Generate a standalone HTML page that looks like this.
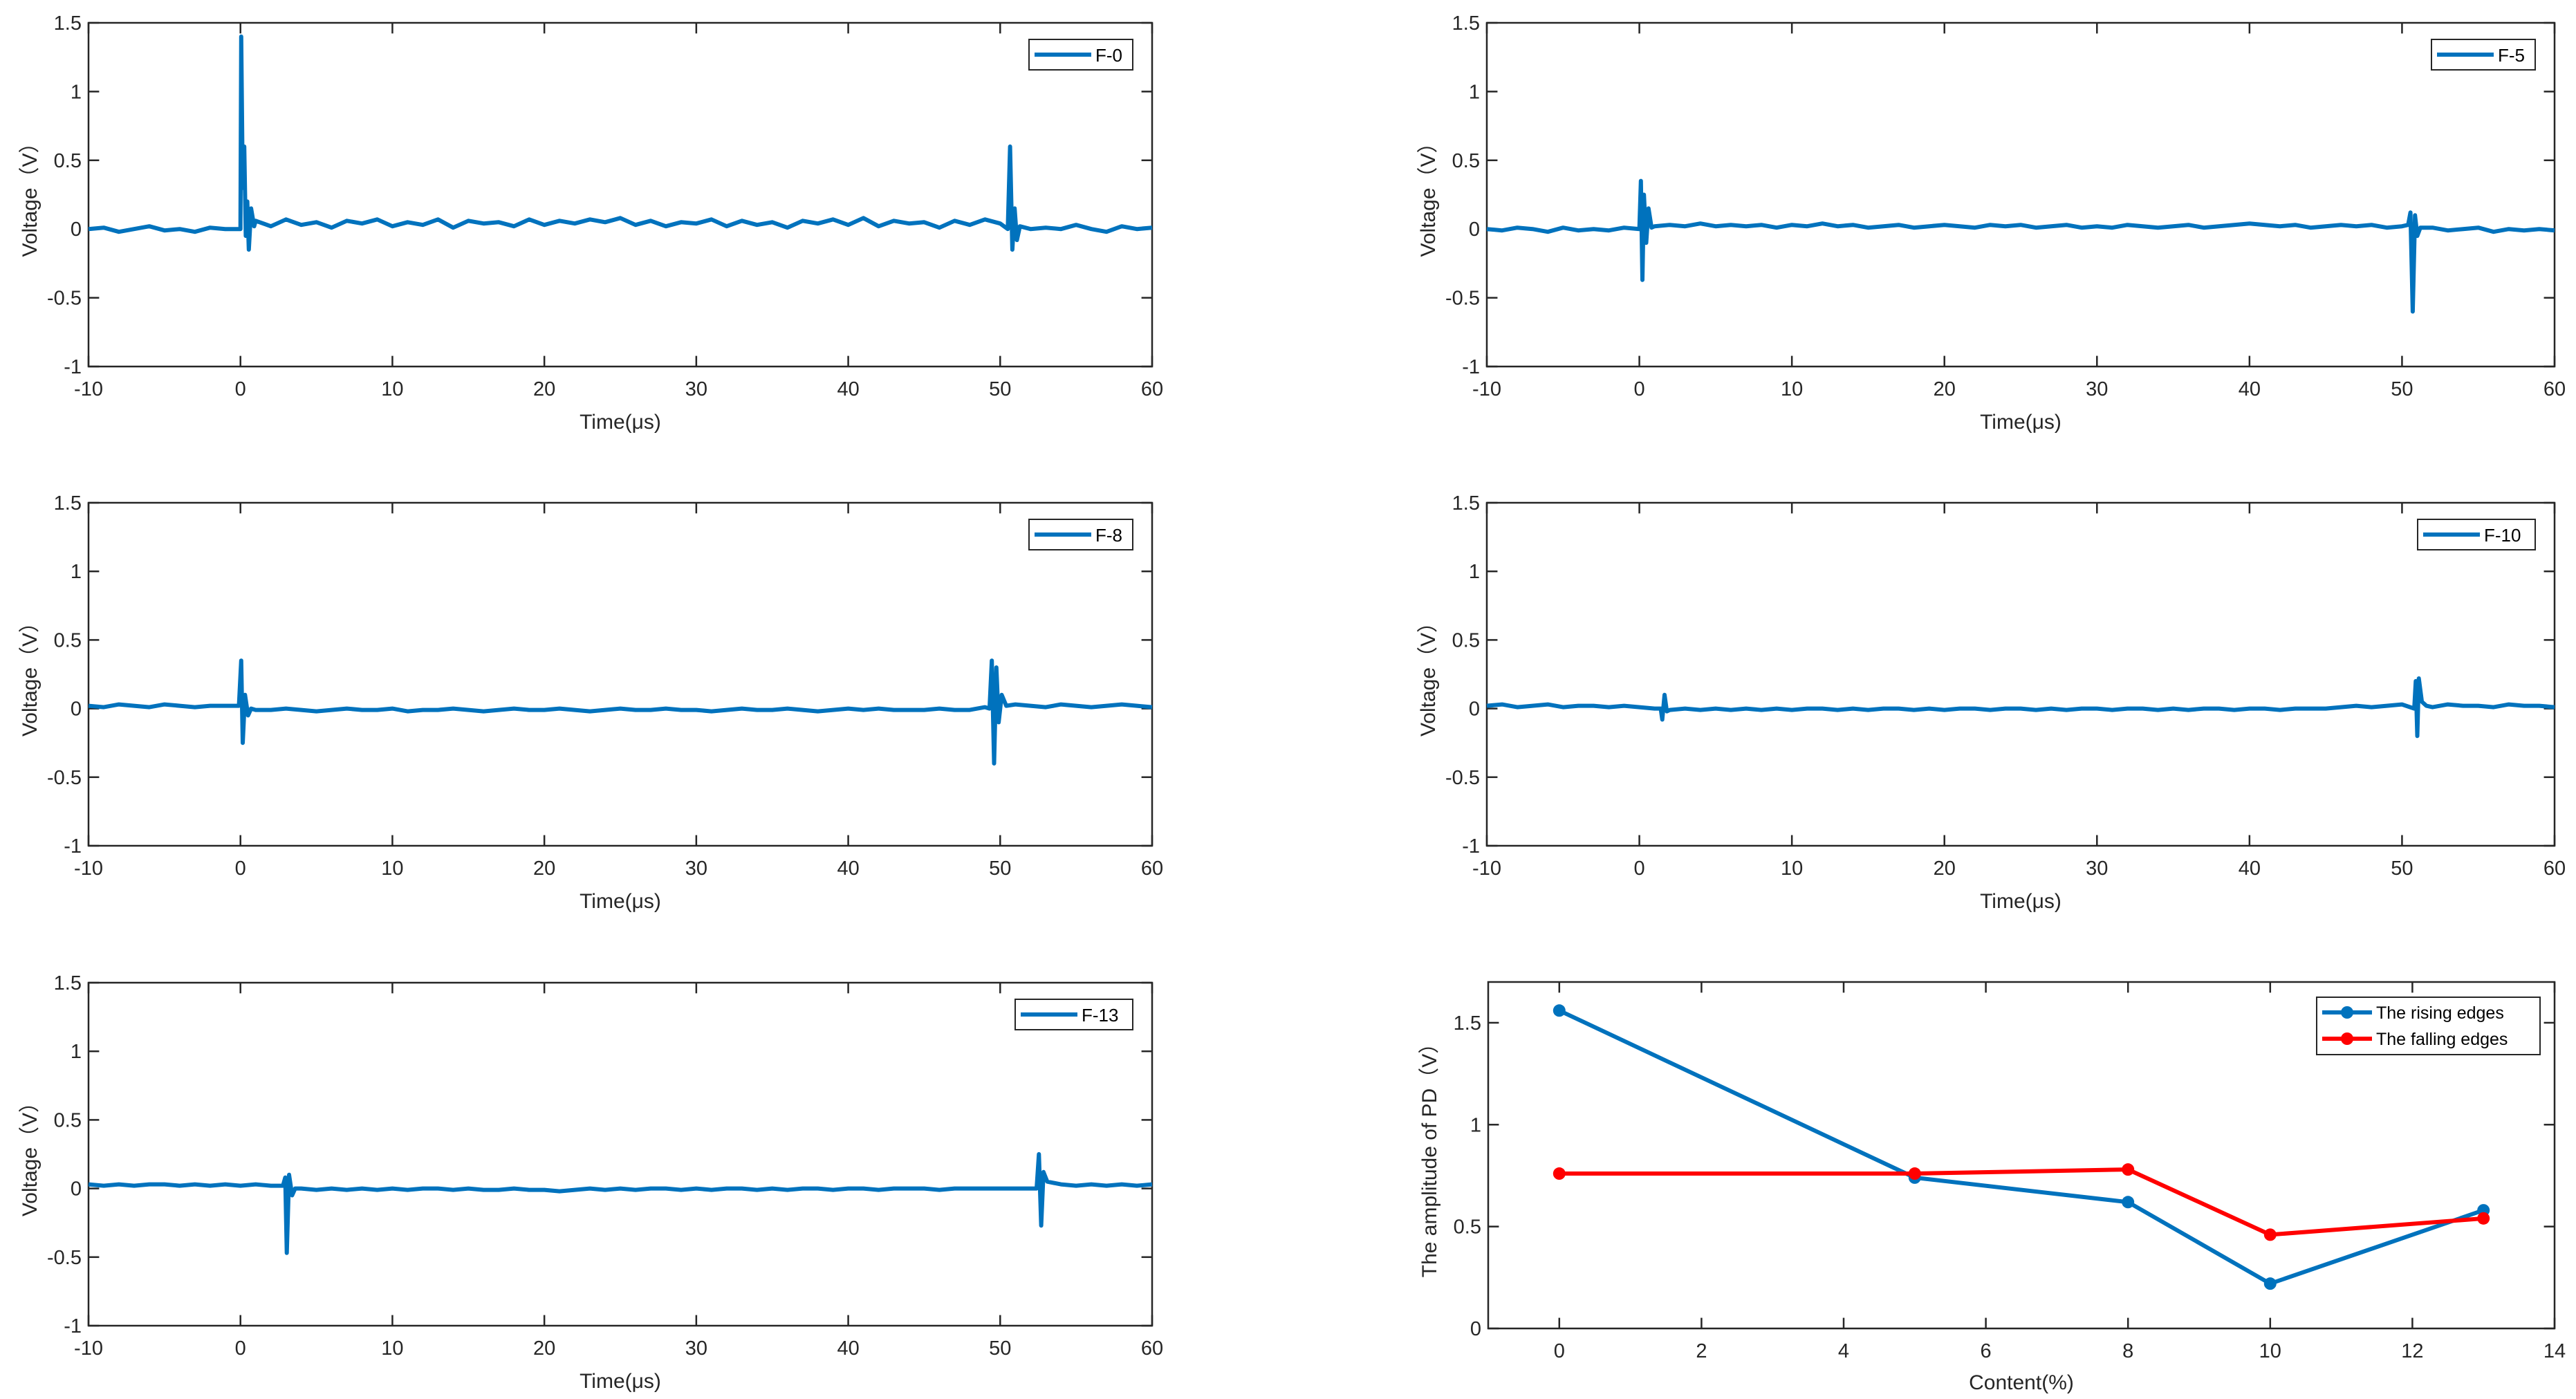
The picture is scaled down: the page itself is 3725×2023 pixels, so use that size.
<!DOCTYPE html>
<html><head><meta charset="utf-8"><style>
html,body{margin:0;padding:0;background:#fff;}
svg{display:block;font-family:"Liberation Sans",sans-serif;}
</style></head><body>
<svg id="fig" width="3725" height="2023" viewBox="0 0 3725 2023" xmlns="http://www.w3.org/2000/svg"></svg>
<script>
// ---- data ----
const timeTicks = [-10,0,10,20,30,40,50,60];
const voltTicks = [-1,-0.5,0,0.5,1,1.5];
const voltTickLabels = ["-1","-0.5","0","0.5","1","1.5"];
const panelNames = ["F-0","F-5","F-8","F-10","F-13"];
const baseF0 = [0,0.01,-0.02,0,0.02,-0.01,0,-0.02,0.01,0,0.03,0.06,0.02,0.07,0.03,0.05,0.01,0.06,0.04,0.07,0.02,0.05,0.03,0.07,0.01,0.06,0.04,0.05,0.02,0.07,0.03,0.06,0.04,0.07,0.05,0.08,0.03,0.06,0.02,0.05,0.04,0.07,0.02,0.06,0.03,0.05,0.01,0.06,0.04,0.07,0.03,0.08,0.02,0.06,0.04,0.05,0.01,0.06,0.03,0.07,0.04,0,0,0.01,0,0.03,0,-0.02,0.02,0,0.01];
const spikeF0 = [[0,0],[0.05,1.4],[0.15,0.3],[0.25,0.6],[0.35,-0.05],[0.45,0.2],[0.55,-0.15],[0.7,0.15],[0.9,0.02],[50.5,0],[50.65,0.6],[50.8,-0.15],[50.95,0.15],[51.1,-0.08],[51.3,0.02]];
const baseF5 = [0,-0.01,0.01,0,-0.02,0.01,-0.01,0,-0.01,0.01,0,0.02,0.03,0.02,0.04,0.02,0.03,0.02,0.03,0.01,0.03,0.02,0.04,0.02,0.03,0.01,0.02,0.03,0.01,0.02,0.03,0.02,0.01,0.03,0.02,0.03,0.01,0.02,0.03,0.01,0.02,0.01,0.03,0.02,0.01,0.02,0.03,0.01,0.02,0.03,0.04,0.03,0.02,0.03,0.01,0.02,0.03,0.02,0.03,0.01,0.02,0,0.01,-0.01,0,0.01,-0.02,0,-0.01,0,-0.01];
const spikeF5 = [[0,0],[0.1,0.35],[0.2,-0.37],[0.3,0.25],[0.45,-0.1],[0.6,0.15],[0.8,0.01],[50.4,0.03],[50.55,0.12],[50.7,-0.6],[50.85,0.1],[51,-0.05],[51.2,0.01]];
const baseF8 = [0.02,0.01,0.03,0.02,0.01,0.03,0.02,0.01,0.02,0.02,0,-0.01,-0.01,0,-0.01,-0.02,-0.01,0,-0.01,-0.01,0,-0.02,-0.01,-0.01,0,-0.01,-0.02,-0.01,0,-0.01,-0.01,0,-0.01,-0.02,-0.01,0,-0.01,-0.01,0,-0.01,-0.01,-0.02,-0.01,0,-0.01,-0.01,0,-0.01,-0.02,-0.01,0,-0.01,0,-0.01,-0.01,-0.01,0,-0.01,-0.01,0.01,0.02,0.03,0.02,0.01,0.03,0.02,0.01,0.02,0.03,0.02,0.01];
const spikeF8 = [[-0.1,0.02],[0.05,0.35],[0.15,-0.25],[0.3,0.1],[0.5,-0.05],[0.7,0],[49.3,0],[49.45,0.35],[49.6,-0.4],[49.75,0.3],[49.9,-0.1],[50.1,0.1],[50.4,0.02]];
const baseF10 = [0.02,0.03,0.01,0.02,0.03,0.01,0.02,0.02,0.01,0.02,0.01,0,-0.01,0,-0.01,0,-0.01,0,-0.01,0,-0.01,0,0,-0.01,0,-0.01,0,0,-0.01,0,-0.01,0,0,-0.01,0,0,-0.01,0,-0.01,0,0,-0.01,0,0,-0.01,0,-0.01,0,0,-0.01,0,0,-0.01,0,0,0,0.01,0.02,0.01,0.02,0.03,0.02,0.01,0.03,0.02,0.02,0.01,0.03,0.02,0.02,0.01];
const spikeF10 = [[1.4,0],[1.5,-0.08],[1.65,0.1],[1.8,-0.02],[50.8,0],[50.9,0.2],[51.0,-0.2],[51.1,0.22],[51.3,0.05],[51.6,0.02]];
const baseF13 = [0.03,0.02,0.03,0.02,0.03,0.03,0.02,0.03,0.02,0.03,0.02,0.03,0.02,0.03,0,-0.01,0,-0.01,0,-0.01,0,-0.01,0,0,-0.01,0,-0.01,-0.01,0,-0.01,-0.01,-0.02,-0.01,0,-0.01,0,-0.01,0,0,-0.01,0,-0.01,0,0,-0.01,0,-0.01,0,0,-0.01,0,0,-0.01,0,0,0,-0.01,0,0,0,0,0,0,0.01,0.03,0.02,0.03,0.02,0.03,0.02,0.03];
const spikeF13 = [[2.8,0.02],[2.95,0.08],[3.05,-0.47],[3.2,0.1],[3.4,-0.05],[3.6,0],[52.4,0],[52.55,0.25],[52.7,-0.27],[52.85,0.12],[53.1,0.05]];
const panelBase = [baseF0,baseF5,baseF8,baseF10,baseF13];
const panelSpikes = [spikeF0,spikeF5,spikeF8,spikeF10,spikeF13];
// summary chart
const contentX = [0,5,8,10,13];
const risingVals = [1.56,0.74,0.62,0.22,0.58];
const fallingVals = [0.76,0.76,0.78,0.46,0.54];
const contentTicks = [0,2,4,6,8,10,12,14];
const ampTicks = [0,0.5,1,1.5];

// ---- drawing ----
const NS="http://www.w3.org/2000/svg";
const svg=document.getElementById('fig');
function el(tag,attrs,parent,text){const e=document.createElementNS(NS,tag);for(const k in attrs)e.setAttribute(k,attrs[k]);if(text!==undefined)e.textContent=text;(parent||svg).appendChild(e);return e;}
const BLUE="#0072BD", RED="#FF0000";
const COLS=[{l:128,r:1666},{l:2150,r:3694}];
const ROWS=[{t:33,b:530},{t:727,b:1223},{t:1421,b:1917}];

function axesBox(g,L,R,T,B){
  const f=el('rect',{x:L,y:T,width:R-L,height:B-T,fill:'none',stroke:'#262626','stroke-width':2.5},g);
  
  
}
function drawWave(i){
  const col=COLS[i%2], row=ROWS[Math.floor(i/2)];
  const L=col.l,R=col.r,T=row.t,B=row.b;
  const g=el('g',{});
  
  
  const sx=t=>L+(t+10)/70*(R-L);
  const sy=v=>B-(v+1)/2.5*(B-T);
  axesBox(g,L,R,T,B);
  const tl=(R-L)*0.01;
  timeTicks.forEach(t=>{
    const x=sx(t);
    el('line',{x1:x,y1:B,x2:x,y2:B-tl,stroke:'#262626','stroke-width':2.5},g);
    el('line',{x1:x,y1:T,x2:x,y2:T+tl,stroke:'#262626','stroke-width':2.5},g);
    const tx=el('text',{x:x,y:B+42,'font-size':29,'text-anchor':'middle',fill:'#262626'},g,String(t));
    
    
  });
  voltTicks.forEach((v,k)=>{
    const y=sy(v);
    el('line',{x1:L,y1:y,x2:L+tl,y2:y,stroke:'#262626','stroke-width':2.5},g);
    el('line',{x1:R,y1:y,x2:R-tl,y2:y,stroke:'#262626','stroke-width':2.5},g);
    const ty=el('text',{x:L-10,y:y+10,'font-size':29,'text-anchor':'end',fill:'#262626'},g,voltTickLabels[k]);
    
    
  });
  const xt=el('text',{x:(L+R)/2,y:B+90,'font-size':30,'text-anchor':'middle',fill:'#262626'},g,'Time(μs)');
  
  
  const yt=el('text',{x:0,y:0,'font-size':30,'text-anchor':'middle',fill:'#262626',transform:`translate(${L-75},${(T+B)/2}) rotate(-90)`},g,'Voltage（V）');
  
  
  // build points
  const base=panelBase[i];
  const step=70/(base.length-1);
  let pts=base.map((v,k)=>[-10+k*step,v]);
  const sp=panelSpikes[i];
  const ranges=[];
  for(let k=0;k<sp.length;k++){ if(k===0||sp[k][0]-sp[k-1][0]>5){ranges.push([sp[k][0],sp[k][0]]);} ranges[ranges.length-1][1]=sp[k][0]; }
  pts=pts.filter(p=>!ranges.some(r=>p[0]>=r[0]&&p[0]<=r[1]));
  pts=pts.concat(sp).sort((a,b)=>a[0]-b[0]);
  const d=pts.map((p,k)=>(k?'L':'M')+sx(p[0]).toFixed(1)+' '+sy(p[1]).toFixed(1)).join(' ');
  const path=el('path',{d:d,fill:'none',stroke:BLUE,'stroke-width':6,'stroke-linejoin':'round'},g);
  
  
  // legend
  const lw = panelNames[i].length>3?170:150;
  const lx=R-28-lw, ly=T+24;
  const lg=el('g',{},g);
  
  
  el('rect',{x:lx,y:ly,width:lw,height:44,fill:'#fff',stroke:'#262626','stroke-width':2},lg);
  el('line',{x1:lx+8,y1:ly+22,x2:lx+90,y2:ly+22,stroke:BLUE,'stroke-width':6},lg);
  const lt=el('text',{x:lx+96,y:ly+32,'font-size':26,fill:'#000'},lg,panelNames[i]);
  
  
}
for(let i=0;i<5;i++)drawWave(i);

// summary chart
(function(){
  const L=2152,R=3694,T=1420,B=1921;
  const g=el('g',{});
  
  
  const sx=x=>L+(x+1)/15*(R-L);
  const sy=v=>B-v/1.7*(B-T);
  axesBox(g,L,R,T,B);
  const tl=(R-L)*0.01;
  contentTicks.forEach(t=>{
    const x=sx(t);
    el('line',{x1:x,y1:B,x2:x,y2:B-tl,stroke:'#262626','stroke-width':2.5},g);
    el('line',{x1:x,y1:T,x2:x,y2:T+tl,stroke:'#262626','stroke-width':2.5},g);
    const tx=el('text',{x:x,y:B+42,'font-size':29,'text-anchor':'middle',fill:'#262626'},g,String(t));
    
    
  });
  ampTicks.forEach(v=>{
    const y=sy(v);
    el('line',{x1:L,y1:y,x2:L+tl,y2:y,stroke:'#262626','stroke-width':2.5},g);
    el('line',{x1:R,y1:y,x2:R-tl,y2:y,stroke:'#262626','stroke-width':2.5},g);
    const ty=el('text',{x:L-10,y:y+10,'font-size':29,'text-anchor':'end',fill:'#262626'},g,String(v));
    
    
  });
  const xt=el('text',{x:(L+R)/2,y:B+88,'font-size':30,'text-anchor':'middle',fill:'#262626'},g,'Content(%)');
  
  
  const yt=el('text',{x:0,y:0,'font-size':30,'text-anchor':'middle',fill:'#262626',transform:`translate(${L-75},${(T+B)/2}) rotate(-90)`},g,'The amplitude of PD（V）');
  
  
  function series(vals,color,name){
    const d=vals.map((v,k)=>(k?'L':'M')+sx(contentX[k]).toFixed(1)+' '+sy(v).toFixed(1)).join(' ');
    const p=el('path',{d:d,fill:'none',stroke:color,'stroke-width':6,'stroke-linejoin':'round'},g);
    
    
    vals.forEach((v,k)=>{
      const c=el('circle',{cx:sx(contentX[k]),cy:sy(v),r:9,fill:color},g);
      
      
    });
  }
  series(risingVals,BLUE,'rising-edges');
  series(fallingVals,RED,'falling-edges');
  const lx=3350,ly=1442,lw=323,lh=83;
  const lg=el('g',{},g);
  
  
  el('rect',{x:lx,y:ly,width:lw,height:lh,fill:'#fff',stroke:'#262626','stroke-width':2},lg);
  [[BLUE,'The rising edges',ly+22],[RED,'The falling edges',ly+60]].forEach(e=>{
    el('line',{x1:lx+8,y1:e[2],x2:lx+80,y2:e[2],stroke:e[0],'stroke-width':6},lg);
    el('circle',{cx:lx+44,cy:e[2],r:9,fill:e[0]},lg);
    const t=el('text',{x:lx+86,y:e[2]+9,'font-size':25,fill:'#000'},lg,e[1]);
    
    
  });
})();
</script>
</body></html>
